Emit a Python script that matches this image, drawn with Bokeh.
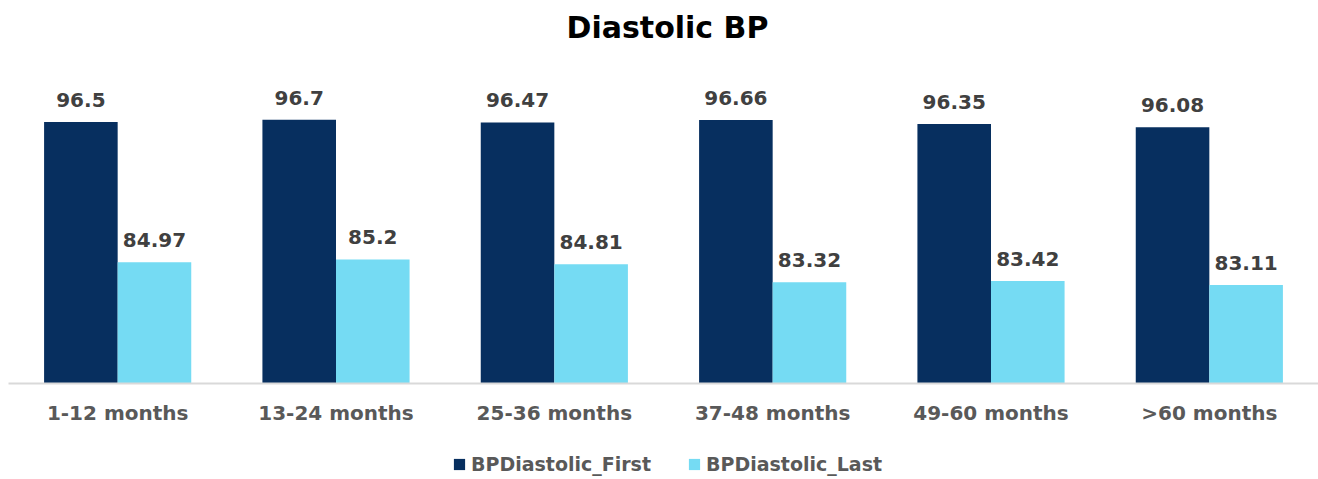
from bokeh.plotting import figure
from bokeh.layouts import column
from bokeh.models import ColumnDataSource, FactorRange, Range1d, LabelSet, Label, Legend, LegendItem
from bokeh.core.properties import value
from bokeh.transform import dodge
from bokeh.embed import file_html
from bokeh.resources import INLINE

title = "Diastolic BP"
categories = ["1-12 months", "13-24 months", "25-36 months", "37-48 months", "49-60 months", ">60 months"]
bp_first = [96.5, 96.7, 96.47, 96.66, 96.35, 96.08]
bp_last = [84.97, 85.2, 84.81, 83.32, 83.42, 83.11]
series_names = ["BPDiastolic_First", "BPDiastolic_Last"]

NAVY = "#072F5F"
CYAN = "#75DBF3"
FONT = "DejaVu Sans"
W = 1318


def strip(height):
    f = figure(width=W, height=height, output_backend="svg", toolbar_location=None,
               x_range=Range1d(0, 1), y_range=Range1d(0, 1), min_border=0)
    f.outline_line_color = None
    f.axis.visible = False
    f.grid.visible = False
    return f


# title strip
top = strip(79)
top.add_layout(Label(
    x=W / 2, y=52, x_units="screen", y_units="screen", text=title,
    text_align="center", text_baseline="middle",
    text_font=FONT, text_font_size="30px", text_font_style="bold", text_color="#000000",
))

src = ColumnDataSource(dict(
    cat=categories,
    first=bp_first,
    last=bp_last,
    first_lbl=[f"{v:g}" for v in bp_first],
    last_lbl=[f"{v:g}" for v in bp_last],
))

p = figure(
    width=W, height=361,
    x_range=FactorRange(*categories, range_padding=0),
    y_range=Range1d(75, 100),
    output_backend="svg", toolbar_location=None,
    min_border_left=8, min_border_right=0, min_border_top=0, min_border_bottom=57,
)
p.outline_line_color = None
p.grid.visible = False
p.yaxis.visible = False

bw = 0.337
r1 = p.vbar(x=dodge("cat", -bw / 2, range=p.x_range), top="first", bottom=75, width=bw,
            source=src, fill_color=NAVY, line_color=None)
r2 = p.vbar(x=dodge("cat", bw / 2, range=p.x_range), top="last", bottom=75, width=bw,
            source=src, fill_color=CYAN, line_color=None)

for col, lbl, off in (("first", "first_lbl", -bw / 2), ("last", "last_lbl", bw / 2)):
    p.add_layout(LabelSet(
        x=dodge("cat", off, range=p.x_range), y=col, text=lbl, source=src,
        y_offset=15, text_align="center", text_baseline="bottom",
        text_font=value(FONT), text_font_size="20px", text_font_style="bold",
        text_color="#404040",
    ))

ax = p.xaxis[0]
ax.axis_line_color = "#D9D9D9"
ax.axis_line_width = 2
ax.major_tick_line_color = None
ax.minor_tick_line_color = None
ax.major_label_text_font = FONT
ax.major_label_text_font_size = "20px"
ax.major_label_text_font_style = "bold"
ax.major_label_text_color = "#595959"
ax.major_label_standoff = 11

# legend strip under the chart; its swatch renderers sit outside the strip's visible range
lg = strip(39)
k1 = lg.vbar(x=[5], top=[5], bottom=4, width=0.1, fill_color=NAVY, line_color=None)
k2 = lg.vbar(x=[5], top=[5], bottom=4, width=0.1, fill_color=CYAN, line_color=None)
legend = Legend(
    items=[LegendItem(label=series_names[0], renderers=[k1]),
           LegendItem(label=series_names[1], renderers=[k2])],
    orientation="horizontal", location=(444, 4),
    label_text_font=FONT, label_text_font_size="19px", label_text_font_style="bold",
    label_text_color="#595959",
    glyph_width=14, glyph_height=14, spacing=36, label_standoff=5,
    border_line_color=None, background_fill_alpha=0, margin=0, padding=0,
)
lg.add_layout(legend)

layout = column(top, p, lg, spacing=0)
open("out.html", "w").write(file_html(layout, INLINE))
